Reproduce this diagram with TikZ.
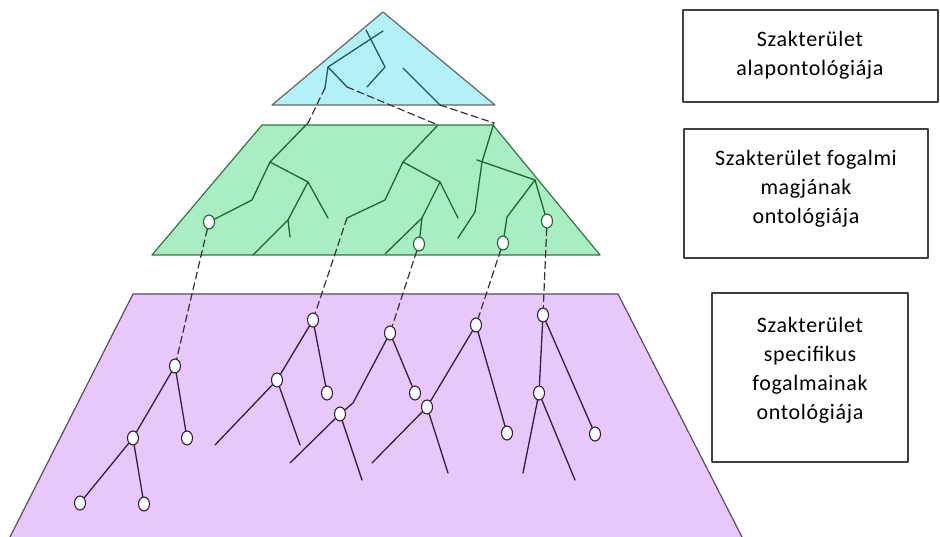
\documentclass[tikz,border=0pt]{standalone}
\usepackage{fontspec}
\setmainfont{Carlito}[LetterSpace=3]
\usetikzlibrary{positioning,shapes.geometric}
\definecolor{topfill}{HTML}{B2F1F7}
\definecolor{midfill}{HTML}{A9EDC2}
\definecolor{lowfill}{HTML}{E8C8FB}
\definecolor{topline}{HTML}{1E5A5E}
\definecolor{midline}{HTML}{1E6630}
\definecolor{lowline}{HTML}{2E2040}
\tikzset{
 layer/.style={line width=1.2pt},
 linkdash/.style={line width=1.2pt,dash pattern=on 7pt off 4pt,draw=black!80},
 knot/.style={ellipse,draw=lowline,fill=white,line width=1.1pt,
  minimum width=11pt,minimum height=14pt,inner sep=0pt},
 midknot/.style={knot,draw=midline},
 labelbox/.style={draw=black!75,line width=1.1pt,fill=white},
 labeltext/.style={align=center,font=\fontsize{22}{29}\selectfont}
}
\begin{document}
\begin{tikzpicture}[x=1pt,y=-1pt,line width=1.3pt,line cap=round,line join=round]
 \useasboundingbox (0,0) rectangle (940,537);
 % layers
 \filldraw[layer,fill=lowfill,draw=lowline!80] (10,537)--(133,294)--(618,294)--(742,537);
 \filldraw[layer,fill=midfill,draw=midline!90] (152,255)--(262,125)--(493,125)--(600,255)--cycle;
 \filldraw[layer,fill=topfill,draw=black!60] (272,105)--(383,12)--(495,105)--cycle;

 % top tree
 \coordinate (tA) at (328,67);
 \coordinate (tAl) at (325,88);
 \coordinate (tAr) at (347,87);
 \coordinate (tB) at (440,105);
 \begin{scope}[draw=topline]
  \draw (383,31)--(tA)--(tAl);
  \draw (tA)--(tAr);
  \draw (366,30)--(385,67)--(367,87);
  \draw (403,68)--(tB);
 \end{scope}

 % middle trees
 \coordinate (g1top) at (308,123);
 \coordinate (g1a) at (270,162);
 \coordinate (g1b) at (308,182);
 \coordinate (g1c) at (288,220);
 \coordinate (g2top) at (438,125);
 \coordinate (g2a) at (403,162);
 \coordinate (g2b) at (440,182);
 \coordinate (g2c) at (422,218);
 \coordinate (g2d) at (347,218);
 \coordinate (g3top) at (494,123);
 \coordinate (g3a) at (482,162);
 \coordinate (g3b) at (535,180);
 \node[midknot] (G1) at (209,222) {};
 \node[midknot] (G2) at (419,244) {};
 \node[midknot] (G3) at (503,243) {};
 \node[midknot] (G4) at (547,221) {};
 \begin{scope}[draw=midline]
  \draw (g1top)--(g1a)--(252,200)--(G1);
  \draw (g1a)--(g1b)--(328,218);
  \draw (g1b)--(g1c)--(253,255);
  \draw (g1c)--(290,237);
  \draw (g2top)--(g2a)--(385,200)--(g2d);
  \draw (g2a)--(g2b)--(458,218);
  \draw (g2b)--(g2c)--(385,254);
  \draw (g2c)--(G2);
  \draw (g3top)--(g3a)--(475,212)--(458,238);
  \draw (477,160)--(g3b)--(507,217)--(G3);
  \draw (g3b)--(G4);
 \end{scope}

 % lower trees
 \node[knot] (a1) at (175,366) {};
 \node[knot] (a2) at (133,438) {};
 \node[knot] (a3) at (187,438) {};
 \node[knot] (a4) at (80,503) {};
 \node[knot] (a5) at (144,504) {};
 \node[knot] (b1) at (313,320) {};
 \node[knot] (b2) at (277,380) {};
 \node[knot] (b3) at (327,393) {};
 \node[knot] (c1) at (390,333) {};
 \node[knot] (c2) at (415,393) {};
 \node[knot] (c3) at (340,414) {};
 \node[knot] (d1) at (476,325) {};
 \node[knot] (d2) at (507,433) {};
 \node[knot] (d3) at (427,407) {};
 \node[knot] (e1) at (543,315) {};
 \node[knot] (e2) at (539,393) {};
 \node[knot] (e3) at (595,434) {};
 \begin{scope}[draw=lowline]
  \draw (a1)--(a2) (a1)--(a3) (a2)--(a4) (a2)--(a5);
  \draw (b1)--(b2) (b1)--(b3) (b2)--(215,445) (b2)--(300,445);
  \draw (c1)--(c2) (c1)--(353,403)--(c3) (c3)--(362,480) (c3)--(290,463);
  \draw (d1)--(d2) (d1)--(d3) (d3)--(372,463) (d3)--(448,473);
  \draw (e1)--(e2) (e1)--(e3) (e2)--(523,473) (e2)--(575,480);
 \end{scope}

 % links between layers
 \draw[linkdash] (tAl)--(g1top);
 \draw[linkdash] (tAr)--(g2top);
 \draw[linkdash] (tB)--(g3top);
 \draw[linkdash] (G1)--(a1);
 \draw[linkdash] (g2d)--(b1);
 \draw[linkdash] (G2)--(c1);
 \draw[linkdash] (G3)--(d1);
 \draw[linkdash] (G4)--(e1);

 % captions
 \node[labelbox,minimum width=255pt,minimum height=92pt] (box1) at (810.5,56) {};
 \node[labelbox,minimum width=244pt,minimum height=129pt] (box2) at (806,193.5) {};
 \node[labelbox,minimum width=196pt,minimum height=169pt] (box3) at (810,377.5) {};
 \node[labeltext] (txt1) at (810,55) {Szakterület\\alapontológiája};
 \node[labeltext] (txt2) at (806,189) {Szakterület fogalmi\\magjának\\ontológiája};
 \node[labeltext] (txt3) at (810,370) {Szakterület\\specifikus\\fogalmainak\\ontológiája};
\end{tikzpicture}
\end{document}
